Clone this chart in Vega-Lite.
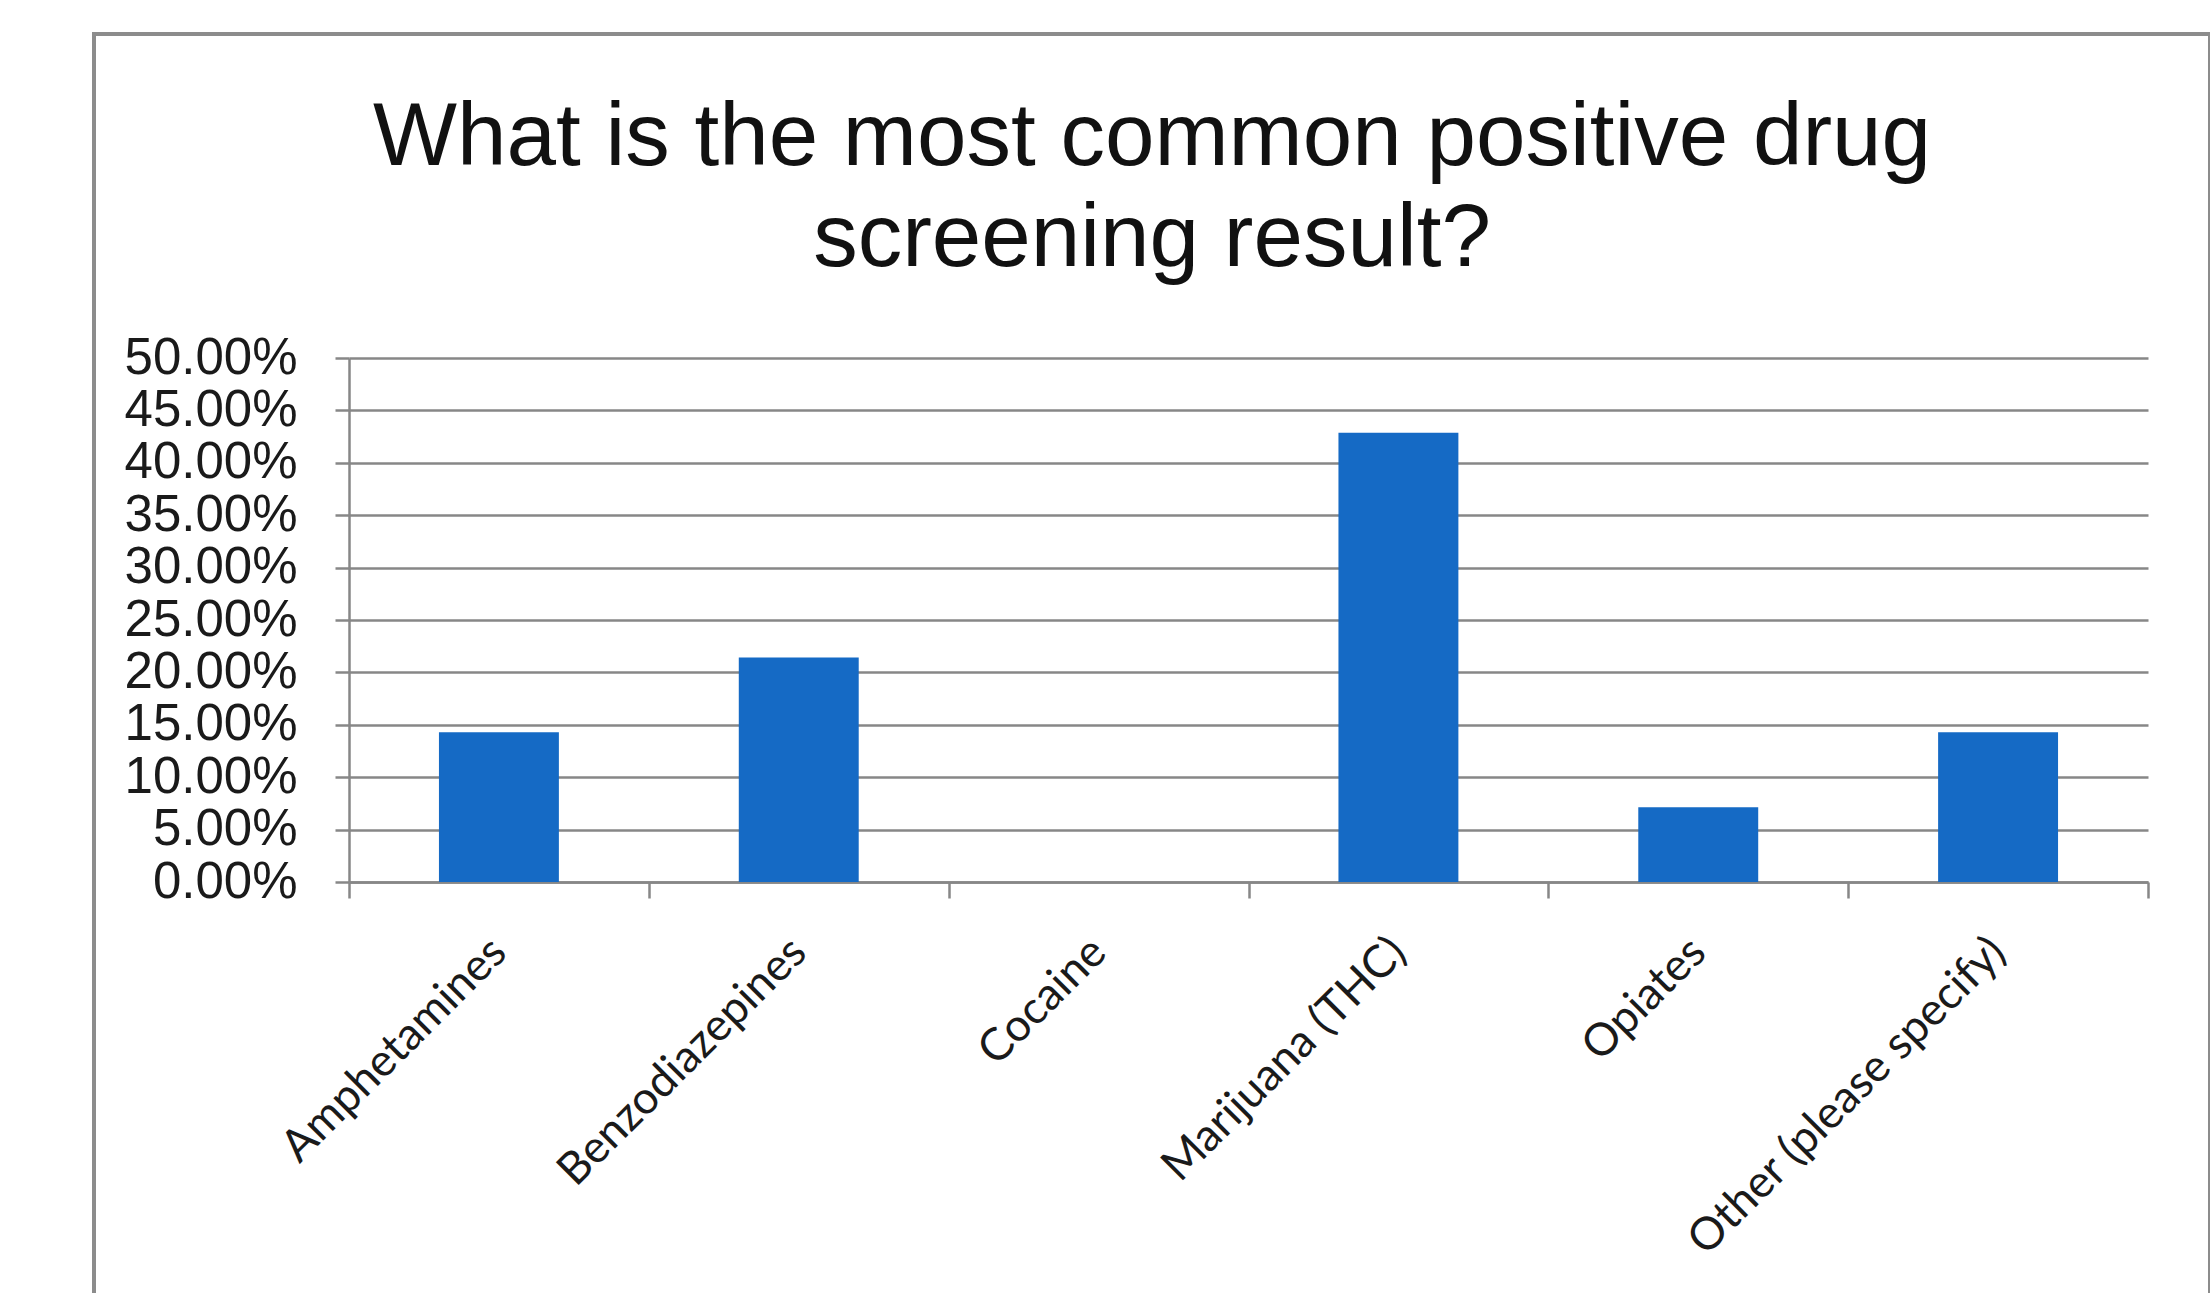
{
  "$schema": "https://vega.github.io/schema/vega-lite/v6.json",
  "width": 2116,
  "height": 1300,
  "autosize": {"type": "none"},
  "padding": {"left": 94, "top": 34, "right": 0, "bottom": 0},
  "background": "white",
  "config": {"view": {"stroke": "#8c8c8c", "strokeWidth": 4}},
  "title": {
    "text": ["What is the most common positive drug", "screening result?"],
    "font": "Liberation Sans",
    "fontSize": 89,
    "fontWeight": "normal",
    "color": "#111111",
    "lineHeight": 101,
    "anchor": "middle",
    "frame": "group",
    "baseline": "top",
    "offset": 0,
    "dy": 251
  },
  "data": {
    "values": [
      {"drug": "Amphetamines", "share": 0.1429},
      {"drug": "Benzodiazepines", "share": 0.2143},
      {"drug": "Cocaine", "share": 0},
      {"drug": "Marijuana (THC)", "share": 0.4286},
      {"drug": "Opiates", "share": 0.0714},
      {"drug": "Other (please specify)", "share": 0.1429}
    ]
  },
  "mark": {"type": "bar", "width": {"band": 0.4}, "color": "#156AC5"},
  "encoding": {
    "x": {
      "field": "drug",
      "type": "nominal",
      "sort": null,
      "scale": {"range": [255, 2054], "paddingInner": 0, "paddingOuter": 0},
      "axis": {
        "title": null,
        "offset": -452,
        "labelAngle": -45,
        "labelAlign": "right",
        "labelBaseline": "top",
        "labelFont": "Lato",
        "labelFontSize": 45,
        "labelColor": "#1a1a1a",
        "labelPadding": 31,
        "labelOffset": -16,
        "labelOverlap": false,
        "labelLimit": 0,
        "labelBound": false,
        "tickBand": "extent",
        "tickSize": 16,
        "tickWidth": 2.5,
        "tickColor": "#878787",
        "domainColor": "#878787",
        "domainWidth": 2.5,
        "grid": false
      }
    },
    "y": {
      "field": "share",
      "type": "quantitative",
      "scale": {"domain": [0, 0.5], "range": [848, 324], "nice": false},
      "axis": {
        "title": null,
        "offset": -255,
        "values": [0, 0.05, 0.1, 0.15, 0.2, 0.25, 0.3, 0.35, 0.4, 0.45, 0.5],
        "format": ".2%",
        "labelFont": "Liberation Sans",
        "labelFontSize": 51,
        "labelColor": "#1a1a1a",
        "labelPadding": 38,
        "labelOverlap": false,
        "labelFlush": false,
        "tickSize": 14,
        "tickWidth": 2.5,
        "tickColor": "#878787",
        "domainColor": "#878787",
        "domainWidth": 2.5,
        "grid": true,
        "gridColor": "#878787",
        "gridWidth": 2.5,
        "gridOpacity": 1
      }
    }
  }
}
